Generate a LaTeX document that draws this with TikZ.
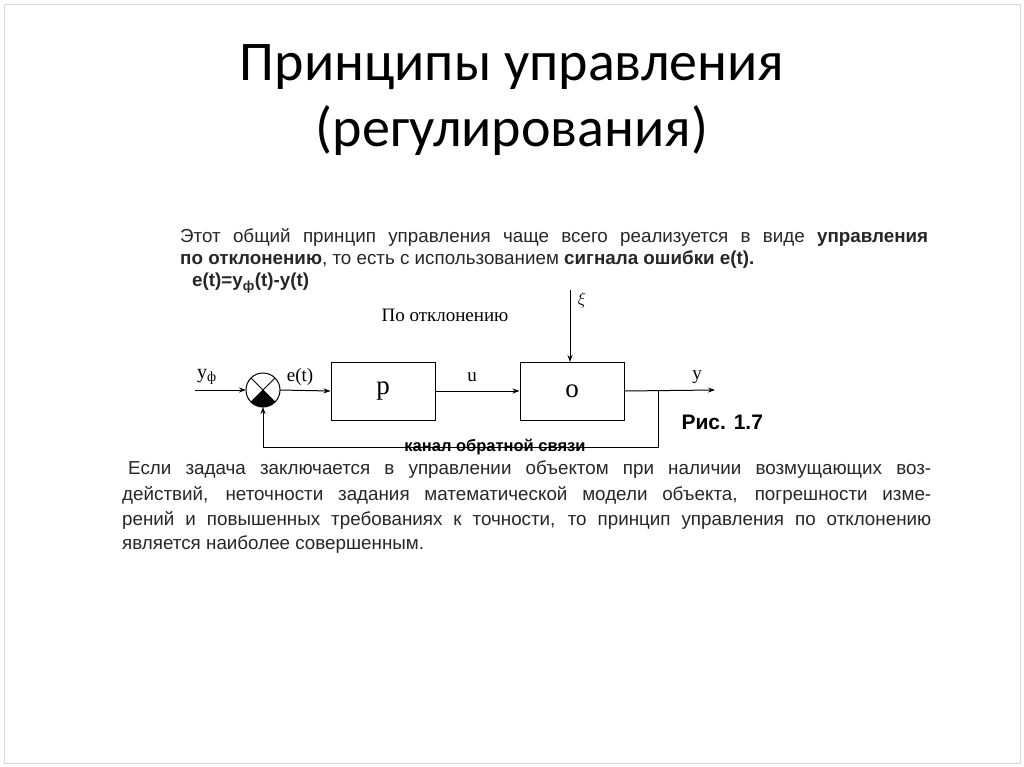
\documentclass[tikz,border=0pt]{standalone}
\usepackage{fontspec}
\usetikzlibrary{calc,arrows.meta}
\setmainfont{Liberation Sans}
\newfontfamily\titlefont{Carlito}
\newfontfamily\serifx{Liberation Serif}
\begin{document}
\begin{tikzpicture}[x=1pt,y=-1pt,
  blk/.style={draw,line width=1pt,minimum width=104pt,minimum height=58pt,inner sep=0pt},
  sig/.style={line width=1pt,-{Stealth[length=7pt,width=5pt]}},
  ln/.style={line width=1pt},
  body/.style={anchor=west,inner sep=0pt,font=\fontsize{18.8}{22}\selectfont,text=black!85}]
\useasboundingbox (0,0) rectangle (1024,767);
\draw[black!15] (4,4) rectangle (1020,763);
\node[font=\titlefont\fontsize{56}{66}\selectfont,align=center] (title) at (512,100) {Принципы управления\\(регулирования)};
\node[body] (l1) at (180,237) {\makebox[748pt][s]{Этот общий принцип управления чаще всего реализуется в виде \textbf{управления}}};
\node[body] (l2) at (180,260) {\textbf{по отклонению}, то есть с использованием \textbf{сигнала ошибки  e(t).}};
\node[body] (l3) at (192,283) {\textbf{e(t)=y\textsubscript{ф}(t)-y(t)}};
\node[font=\serifx\fontsize{19}{22}\selectfont] (po) at (445,315) {По отклонению};
% sum
\coordinate (sc) at (263,390);
\fill (sc) -- ++(45:17) arc (45:135:17) -- cycle;
\draw[ln] (sc) circle (17);
\draw[ln] ($(sc)+(45:17)$) -- ($(sc)+(-135:17)$);
\draw[ln] ($(sc)+(135:17)$) -- ($(sc)+(-45:17)$);
\node[blk] (p) at (383,391) {\serifx\fontsize{27}{30}\selectfont p};
\node[blk] (o) at (572,391) {\serifx\fontsize{27}{30}\selectfont o};
\coordinate (in) at (195,390);
\coordinate (out) at (715,390);
\coordinate (xi) at (570,290);
\coordinate (br) at (658,390);
\coordinate (fb) at (658,447);
\coordinate (fbl) at (263,447);
\draw[sig] (in) -- (246,390);
\draw[sig] (280,390) -- (p.west);
\draw[sig] (p.east) -- (o.west);
\draw[sig] (o.east) -- (out);
\draw[sig] (xi) -- (570,362);
\draw[ln] (br) -- (fb) -- (fbl);
\draw[sig] (fbl) -- (263,407);
\node[font=\serifx\fontsize{20}{22}\selectfont] at (207,377) {y\textsubscript{ф}};
\node[font=\serifx\fontsize{19}{22}\selectfont] at (300,377) {e(t)};
\node[font=\serifx\fontsize{19}{22}\selectfont] at (472,377) {u};
\node[font=\serifx\fontsize{19}{22}\selectfont] at (697,377) {y};
\node[font=\serifx\fontsize{19}{22}\selectfont] at (582,300) {$\xi$};
\node[font=\bfseries\fontsize{21}{24}\selectfont,anchor=west] at (678,422) {Рис. 1.7};
\node[font=\bfseries\fontsize{16.5}{18}\selectfont] at (495,447) {канал  обратной связи};
\node[body] (p1) at (128,470) {\makebox[803pt][s]{Если задача заключается в управлении объектом при наличии возмущающих воз-}};
\node[body] (p2) at (122,495) {\makebox[809pt][s]{действий, неточности задания математической модели объекта, погрешности изме-}};
\node[body] (p3) at (122,520) {\makebox[809pt][s]{рений и повышенных требованиях к точности, то принцип управления по отклонению}};
\node[body] (p4) at (122,545) {является наиболее совершенным.};
\end{tikzpicture}
\end{document}
